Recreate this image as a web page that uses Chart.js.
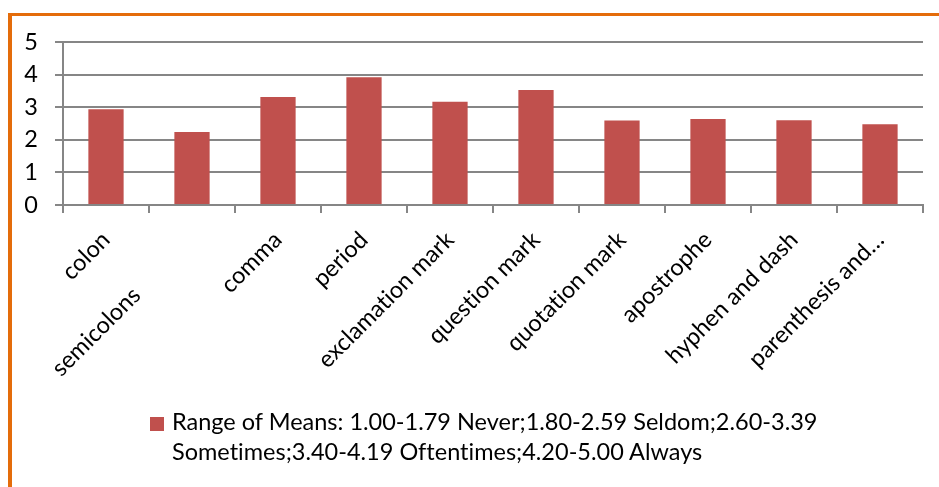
<!DOCTYPE html>
<html><head><meta charset="utf-8">
<script src="https://cdn.jsdelivr.net/npm/chart.js@4"></script>
<style>
html,body{margin:0;padding:0;background:#fff;overflow:hidden;}
#wrap{position:relative;width:939px;height:487px;overflow:hidden;}
#frame{position:absolute;left:8px;top:13px;width:1000px;height:700px;border-left:4px solid #E46C0A;border-top:3px solid #E46C0A;}
canvas{position:absolute;left:0;top:0;}
#legend{position:absolute;left:150px;top:406px;font-family:Lato,sans-serif;font-size:23.5px;line-height:30px;color:#000;font-variant-ligatures:none;}
#legend .box{position:absolute;left:0;top:11px;width:14px;height:14px;}
#legend .txt{position:absolute;left:22px;top:0;width:700px;}
</style></head><body>
<div id="wrap"><div id="frame"></div><canvas id="c" width="939" height="487"></canvas><div id="legend"></div></div>
<script>
const categories = ["colon","semicolons","comma","period","exclamation mark","question mark","quotation mark","apostrophe","hyphen and dash","parenthesis and\u2026"];
const meanValues = [2.94, 2.24, 3.31, 3.92, 3.17, 3.53, 2.59, 2.64, 2.60, 2.48];
const yTickValues = [0, 1, 2, 3, 4, 5];
const seriesLabel = "Range of Means: 1.00-1.79 Never;1.80-2.59 Seldom;2.60-3.39 Sometimes;3.40-4.19 Oftentimes;4.20-5.00 Always";

const FONT = 'Lato';
const FSIZE = 23.5;
const GRID = '#868686';
const BAR = '#C0504D';

// Excel staggered the second label away from the axis to avoid overlap
const staggerIndex = 1;
const staggerDistance = 79;
const mctx = document.createElement('canvas').getContext('2d');
mctx.font = FSIZE + 'px ' + FONT;
const nbspW = mctx.measureText('\u00A0').width || 5;
const staggerPad = '\u00A0'.repeat(Math.round(staggerDistance / nbspW));

Chart.defaults.font.family = FONT;
Chart.defaults.font.size = FSIZE;
Chart.defaults.color = '#000';

const noLigatures = {
  id: 'noLigatures',
  beforeDraw(chart) { try { chart.ctx.letterSpacing = '0.01px'; } catch (e) {} }
};

new Chart(document.getElementById('c'), {
  type: 'bar',
  data: {
    labels: categories,
    datasets: [{
      label: seriesLabel,
      data: meanValues,
      backgroundColor: BAR,
      borderWidth: 0,
      barPercentage: 0.41,
      categoryPercentage: 1.0
    }]
  },
  plugins: [noLigatures],
  options: {
    responsive: false,
    animation: false,
    layout: { padding: { top: 42, right: 16, bottom: 0, left: 0 } },
    plugins: { legend: { display: false }, tooltip: { enabled: false } },
    scales: {
      x: {
        offset: true,
        grid: { offset: true, drawOnChartArea: false, drawTicks: true, tickLength: 8, color: GRID, lineWidth: 2 },
        border: { display: true, color: GRID, width: 2 },
        ticks: {
          autoSkip: false, maxRotation: 45, minRotation: 45, padding: 13,
          callback: function(v, i) { return i === staggerIndex ? categories[i] + staggerPad : categories[i]; }
        },
        afterFit: function(s) { s.height = 282; }
      },
      y: {
        min: 0, max: 5,
        afterBuildTicks: function(s) { s.ticks = yTickValues.map(v => ({ value: v })); },
        grid: { color: GRID, lineWidth: 2, tickLength: 8, drawTicks: true },
        border: { display: true, color: GRID, width: 2 },
        ticks: { padding: 17 },
        afterFit: function(s) { s.width = 63; }
      }
    }
  }
});

const lg = document.getElementById('legend');
lg.innerHTML = '<span class="box" style="background:' + BAR + '"></span><span class="txt"></span>';
lg.querySelector('.txt').textContent = seriesLabel;
</script>
</body></html>
